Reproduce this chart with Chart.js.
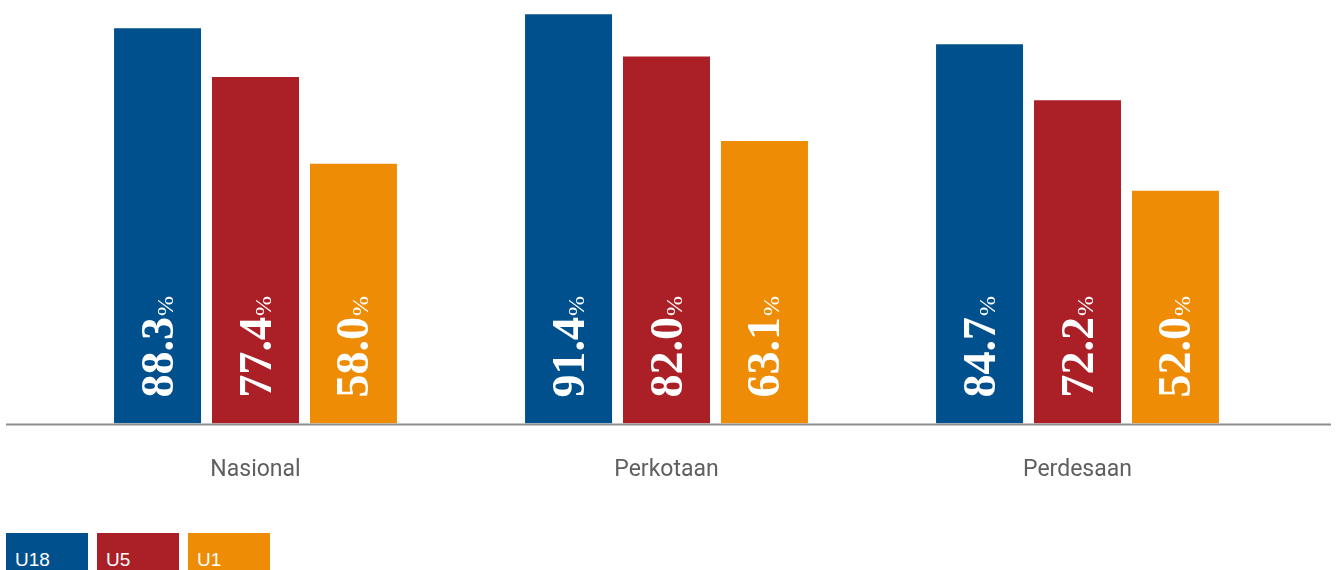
<!DOCTYPE html>
<html>
<head>
<meta charset="utf-8">
<script src="https://cdn.jsdelivr.net/npm/chart.js@4"></script>
<style>
  html, body { margin: 0; padding: 0; background: #fff; overflow: hidden; }
  #wrap { position: relative; width: 1339px; height: 570px; }
  #chart { position: absolute; left: 0; top: 0; }
  #legend { position: absolute; left: 6px; top: 533px; display: flex; gap: 9px; }
  .key {
    width: 82px; height: 40px; box-sizing: border-box;
    padding: 16px 0 0 9px;
    color: #fff; font: 19px "Liberation Sans", Arial, sans-serif;
  }
</style>
</head>
<body>
<div id="wrap">
  <canvas id="chart" width="1339" height="533"></canvas>
  <div id="legend"></div>
</div>
<script>
const categories = ["Nasional", "Perkotaan", "Perdesaan"];
const seriesNames = ["U18", "U5", "U1"];
const u18Values = [88.3, 91.4, 84.7];
const u5Values = [77.4, 82.0, 72.2];
const u1Values = [58.0, 63.1, 52.0];
const seriesColors = ["#01508e", "#ab1f26", "#ef8c05"];

const seriesValues = [u18Values, u5Values, u1Values];

// rotated value labels inside each bar
const barLabels = {
  id: "barLabels",
  afterDatasetsDraw(chart) {
    const ctx = chart.ctx;
    chart.data.datasets.forEach((ds, i) => {
      const meta = chart.getDatasetMeta(i);
      meta.data.forEach((bar, j) => {
        const num = ds.data[j].toFixed(1);
        ctx.save();
        ctx.translate(bar.x, bar.base - 26);
        ctx.rotate(-Math.PI / 2);
        ctx.fillStyle = "#ffffff";
        ctx.textAlign = "left";
        ctx.textBaseline = "alphabetic";
        ctx.font = "bold 46px 'Liberation Serif', serif";
        ctx.fillText(num, 0, 15);
        const w = ctx.measureText(num).width;
        ctx.font = "24px 'Liberation Serif', serif";
        ctx.fillText("%", w + 1, 15);
        ctx.restore();
      });
    });
  },
};

// baseline rule running across the whole width
const baseRule = {
  id: "baseRule",
  afterDatasetsDraw(chart) {
    const ctx = chart.ctx;
    const y = chart.scales.y.getPixelForValue(0) + 1;
    ctx.save();
    ctx.strokeStyle = "#8e8e8e";
    ctx.lineWidth = 2;
    ctx.beginPath();
    ctx.moveTo(6, y);
    ctx.lineTo(1331, y);
    ctx.stroke();
    ctx.restore();
  },
};

const chart = new Chart(document.getElementById("chart"), {
  type: "bar",
  data: {
    labels: categories,
    datasets: seriesNames.map((name, i) => ({
      label: name,
      data: seriesValues[i],
      backgroundColor: seriesColors[i],
      borderWidth: 0,
      categoryPercentage: 0.715,
      barPercentage: 0.888,
    })),
  },
  options: {
    responsive: false,
    animation: false,
    layout: { padding: { left: 50, right: 56, top: 0, bottom: 16 } },
    plugins: {
      legend: { display: false },
      tooltip: { enabled: false },
    },
    scales: {
      x: {
        grid: { display: false, drawTicks: false },
        border: { display: false },
        ticks: {
          padding: 33,
          color: "#5f5f5f",
          font: { family: "Roboto", size: 23 },
        },
      },
      y: {
        display: false,
        min: 0,
        max: 94.6,
      },
    },
  },
  plugins: [barLabels, baseRule],
});

// legend boxes with the series name inside
const legend = document.getElementById("legend");
seriesNames.forEach((name, i) => {
  const el = document.createElement("div");
  el.className = "key";
  el.style.background = seriesColors[i];
  el.textContent = name;
  legend.appendChild(el);
});
</script>
</body>
</html>
